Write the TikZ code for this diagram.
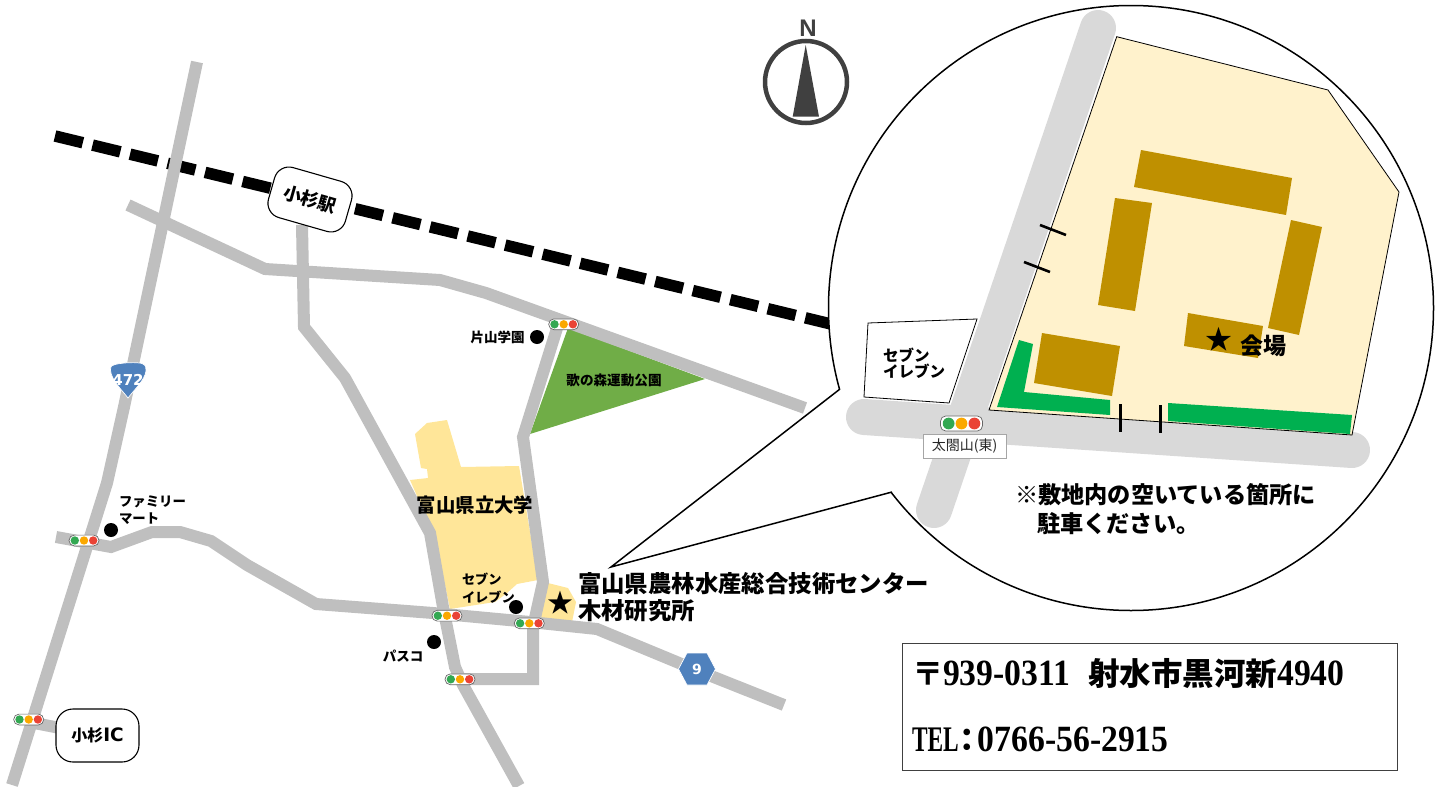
\documentclass[tikz,border=0pt]{standalone}
\usepackage{fontspec}
\setmainfont{Noto Sans CJK JP}
\newfontfamily\latinb{DejaVu Sans}
\newfontfamily\arialb{Liberation Sans}
\newfontfamily\addr[FakeStretch=0.91]{Liberation Serif}
\newfontfamily\addrtel[FakeStretch=0.65]{Liberation Serif}
\newcommand{\fs}[2]{\fontsize{#1}{#2}\selectfont}
\definecolor{roadgray}{HTML}{BFBFBF}
\definecolor{insetroad}{HTML}{D9D9D9}
\definecolor{univ}{HTML}{FFE699}
\definecolor{parkgreen}{HTML}{70AD47}
\definecolor{shield}{HTML}{4F81BD}
\definecolor{site}{HTML}{FFF2CC}
\definecolor{bldg}{HTML}{BF9000}
\definecolor{lawn}{HTML}{00B050}
\definecolor{compass}{HTML}{404040}
\tikzset{
  road/.style={draw=roadgray,line width=12pt},
  iroad/.style={draw=insetroad,line width=36pt,line cap=round},
  rail/.style={draw=black,line width=11.5pt,dash pattern=on 28.6pt off 10pt},
  spot/.style={fill=black},
  txt/.style={inner sep=0pt,outer sep=0pt,text=black,align=left},
  boldtxt/.style={txt,font=\bfseries\fs{#1}{#1}},
  place/.style={draw=black,fill=white,line width=1.1pt,inner sep=0pt,outer sep=0pt,rounded corners=#1},
  tick/.style={draw=black,line width=2.6pt},
  sig/.pic={
    \draw[draw=compass!80,fill=white,line width=.7pt,rounded corners=5.3pt] (-15,-5.4) rectangle (15,5.4);
    \fill[color={rgb,255:red,51;green,168;blue,82}] (-9.2,0) circle[radius=4.2];
    \fill[color={rgb,255:red,251;green,168;blue,0}] (0,0) circle[radius=4.2];
    \fill[color={rgb,255:red,234;green,67;blue,53}] (9.2,0) circle[radius=4.2];
  }
}
\begin{document}
\begin{tikzpicture}[x=1pt,y=-1pt]
\useasboundingbox (0,0) rectangle (1446,787);
% map areas
\fill[univ] (415,434) -- (427,423) -- (447,420) -- (461,467) -- (519,466) -- (538,580) -- (517,584) -- (507,593) -- (495,602) -- (450,609) -- (435,537) -- (410,480) -- (428,478) -- (427,469) -- (421,468) -- cycle;
\fill[univ] (548,583) -- (568,588) -- (576,602) -- (572,622) -- (539,620) -- cycle;
\fill[parkgreen] (568,328) -- (705,379) -- (530,434) -- cycle;
% rail
\coordinate (railW) at (55,136);
\coordinate (railE) at (835,325);
\draw[rail] (railW) -- (railE);
% roads
\draw[road] (197,62) -- (136,350) -- (124,407) -- (107,483) -- (12,785);
\draw[road] (128,205) -- (265,269) -- (440,280) -- (486,293) -- (805,408);
\draw[road] (302,225) -- (304,327) -- (345,378) -- (430,533) -- (443,607) -- (455,667) -- (463,685) -- (519,786);
\draw[road] (558,325) -- (523,437) -- (543,582) -- (533,627) -- (533,679) -- (460,679);
\draw[road] (56,537) -- (111,547) -- (152,532) -- (180,532) -- (211,541) -- (247,565) -- (316,604) -- (433,613) -- (530,622) -- (597,629) -- (696,670) -- (784,705);
\draw[road] (29,722) -- (60,728);
% callout
\coordinate (tip) at (611,567);
\coordinate (c1) at (840,389);
\coordinate (c2) at (892,492);
\coordinate (cc) at (1131,308);
\draw[fill=white,draw=black,line width=1.5pt] (cc) circle[radius=302.5];
\fill[white] (tip) -- (c1) -- (c2) -- cycle;
\draw[white,line width=3pt] (c1) -- (c2);
\fill[white] (c1) -- (823,392) -- (887,496) -- (c2) -- cycle;
\draw[black,line width=1.5pt] (c1) -- (tip) -- (c2);
% inset
\draw[iroad] (1098,28) -- (934,510);
\draw[iroad] (864,417) -- (1352,450);
\draw[fill=site,draw=black,line width=.8pt] (1116.7,36.7) -- (1328,90) -- (1399,192) -- (1352,435) -- (989,410) -- cycle;
\fill[bldg] (1141,150) -- (1292,178) -- (1286,215) -- (1134,187) -- cycle;
\fill[bldg] (1115,198) -- (1152,203) -- (1135,311) -- (1098,305) -- cycle;
\fill[bldg] (1291,220) -- (1322,227) -- (1299,335) -- (1268,328) -- cycle;
\fill[bldg] (1188,313) -- (1263,326) -- (1258,358) -- (1184,346) -- cycle;
\fill[bldg] (1042,333) -- (1120,346) -- (1112,396) -- (1034,383) -- cycle;
\fill[lawn] (1019,340) -- (1033,344) -- (1024,392) -- (1110,400) -- (1110,415) -- (997,407) -- cycle;
\fill[lawn] (1168,403) -- (1352,415) -- (1350,434) -- (1168,421) -- cycle;
\draw[tick] (1040,225) -- (1066,235);
\draw[tick] (1024,262) -- (1050,272);
\draw[tick] (1120.5,404) -- (1120.5,432);
\draw[tick] (1160.5,405) -- (1160.5,433);
\draw[fill=white,draw=black,line width=.8pt] (868,323) -- (977,319) -- (949,403) -- (864,397) -- cycle;
\node[boldtxt=15.5,anchor=west] (sevenin) at (883,363) {\fs{15.5}{18}セブン\\イレブン};
\pic[scale=1.4] (sigin) at (961.5,423.5) {sig};
\node[draw=black!35,fill=white,line width=.9pt,minimum width=83pt,minimum height=24pt,inner sep=0pt,text=black!85,font=\fs{14}{14}] (taiko) at (964.5,446) {太閤山(東)};
\node[txt,font=\bfseries\fs{23.2}{29},anchor=north west] (note) at (1015,483.5) {※敷地内の空いている箇所に\\\hspace*{22pt}駐車ください。};
\node[txt,font=\fs{27}{27}] (star2) at (1219,339) {★};
\node[boldtxt=23,anchor=west] (kaijo) at (1240,346) {会場};
% compass
\draw[compass,line width=4.5pt] (806,82) circle[radius=41];
\fill[compass] (805.7,45) -- (819,116.7) -- (792.7,116.7) -- cycle;
\node[txt,text=compass,font=\arialb\bfseries\fs{24}{24}] (north) at (808,28) {N};
% signals
\pic (s1) at (563.7,324.3) {sig};
\pic (s2) at (84,540.5) {sig};
\pic (s3) at (447,615.7) {sig};
\pic (s4) at (529.3,623.3) {sig};
\pic (s5) at (460,679.3) {sig};
\pic (s6) at (28.7,719.5) {sig};
% spots
\fill[spot] (537,337) circle[radius=7];
\fill[spot] (111,530) circle[radius=7];
\fill[spot] (516,607) circle[radius=7];
\fill[spot] (434,642) circle[radius=7];
% shields
\draw[fill=shield,draw=white,line width=.7pt] (128,398) .. controls (122,390) and (111,380) .. (110.5,370) .. controls (110.5,366) and (112,365) .. (115,364.5) .. controls (123,362.5) and (137,362) .. (142,363.5) .. controls (146,365) and (146.5,368) .. (146,371) .. controls (145,380) and (134,390) .. (128,398) -- cycle;
\node[text=white,inner sep=0pt,font=\latinb\bfseries\fs{15}{15}] (r472) at (128,379.5) {472};
\draw[fill=shield,draw=white,line width=.7pt] (678.5,669) -- (687,653) -- (707,653) -- (715.5,669) -- (707,685) -- (687,685) -- cycle;
\node[text=white,inner sep=0pt,font=\latinb\bfseries\fs{14}{14}] (r9) at (697,669) {9};
% nodes
\node[place=15pt,minimum width=80pt,minimum height=52pt,rotate=-16,font=\bfseries\fs{18}{18}] (station) at (310,199.5) {小杉駅};
\node[place=17pt,minimum width=83pt,minimum height=53pt,font=\bfseries\fs{16}{16}] (ic) at (97.5,735.5) {小杉{\latinb\bfseries\fs{18.5}{18.5}IC}};
% labels
\node[boldtxt=13.5] (katayama) at (497.5,337) {片山学園};
\node[boldtxt=13.6] (park) at (614,380) {歌の森運動公園};
\node[boldtxt=19.4] (univl) at (475,505) {富山県立大学};
\node[txt,font=\bfseries\fs{13.4}{16.5},anchor=west] (fm) at (119,510) {ファミリー\\マート};
\node[txt,font=\bfseries\fs{13.2}{17.5},anchor=west] (se) at (462,588) {セブン\\イレブン};
\node[boldtxt=13.5] (pasco) at (403,656) {パスコ};
\node[txt,font=\fs{26}{26}] (star1) at (560,603) {★};
\node[txt,font=\bfseries\fs{23.4}{27},anchor=west] (center) at (578,597.5) {富山県農林水産総合技術センター\\木材研究所};
% address
\draw[draw=compass,line width=1pt] (902.3,643.7) rectangle (1397.7,770.7);
\node[txt,anchor=west,font=\bfseries\fs{31.5}{31.5}] (addr1) at (912,674) {〒\hspace{-0.5pt}{\addr\bfseries\fs{37}{37}939-0311}\hspace{18pt}射水市黒河新{\addr\bfseries\fs{37}{37}4940}};
\node[txt,anchor=west,font=\bfseries\fs{31.5}{31.5}] (addr2) at (912,739) {{\addrtel\bfseries\fs{36}{36}TEL}\hspace{-7pt}：\hspace{-5.5pt}{\addr\bfseries\fs{37}{37}0766-56-2915}};
\end{tikzpicture}
\end{document}
